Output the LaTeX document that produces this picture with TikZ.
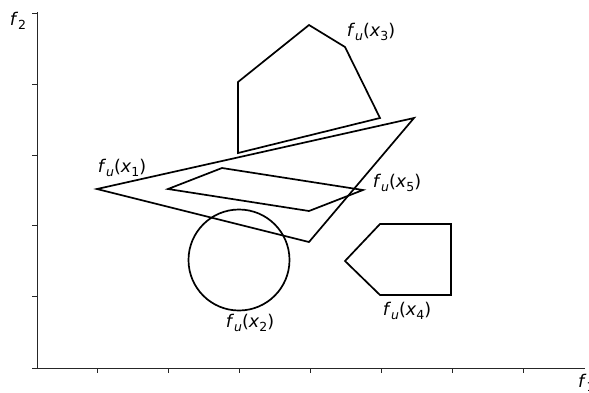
\documentclass[tikz,border=0pt]{standalone}
\usepackage{fontspec}
\setmainfont{DejaVu Sans}
\newcommand\lbsub[1]{\raisebox{-0.35ex}{\fontsize{12.5}{13}\selectfont #1}}
\newcommand\fux[1]{\textit{f}\lbsub{\textit{u}}(\textit{x}\lbsub{#1})}
\begin{document}
\begin{tikzpicture}[x=1pt,y=-1pt,
  outl/.style={line width=1.7pt, line join=miter, black},
  axis/.style={line width=1pt, black!85},
  tickln/.style={line width=0.9pt, black!85},
  lbl/.style={font=\fontsize{17.5}{19}\selectfont, inner sep=0pt}]
\useasboundingbox (0,0) rectangle (589,392);
% axes
\coordinate (O) at (37,368);
\coordinate (Xend) at (585,368);
\coordinate (Yend) at (37,12);
\draw[axis] (Yend) -- (O) -- (Xend);
\foreach \x in {97,168,239,310,381,452,523} \draw[tickln] (\x,368) -- (\x,373);
\foreach \y in {13,84,155,225,296,368} \draw[tickln] (37,\y) -- (32,\y);
\node[lbl] (f2) at (18,21) {\textit{f}\lbsub{2}};
\node[lbl, anchor=west] (f1) at (578,383) {\textit{f}\lbsub{1}};
% x1 triangle
\draw[outl] (97,189) coordinate (a1) -- (414,118) coordinate (a2) -- (309,242) coordinate (a3) -- cycle;
\node[lbl] (l1) at (122,168) {\fux{1}};
% x5 parallelogram
\draw[outl] (168,189) coordinate (b1) -- (222,168) coordinate (b2) -- (363,190) coordinate (b3) -- (309,211) coordinate (b4) -- cycle;
\node[lbl] (l5) at (397,183) {\fux{5}};
% x3 pentagon
\draw[outl] (238,82) coordinate (c1) -- (309,25) coordinate (c2) -- (345,47) coordinate (c3) -- (380,118) coordinate (c4) -- (238,153) coordinate (c5) -- cycle;
\node[lbl] (l3) at (371,32) {\fux{3}};
% x4 pentagon
\draw[outl] (380,224) coordinate (d1) -- (451,224) coordinate (d2) -- (451,295) coordinate (d3) -- (380,295) coordinate (d4) -- (345,261) coordinate (d5) -- cycle;
\node[lbl] (l4) at (407,311) {\fux{4}};
% x2 circle
\node[outl, draw, circle, minimum size=101pt, inner sep=0pt] (c2c) at (239,260) {};
\node[lbl] (l2) at (250,323) {\fux{2}};
\end{tikzpicture}
\end{document}
